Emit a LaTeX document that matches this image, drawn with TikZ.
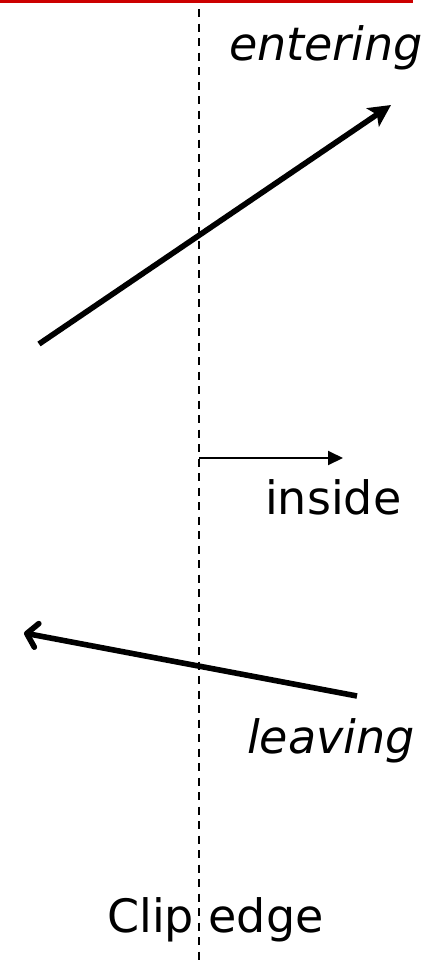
\documentclass[tikz,border=0pt]{standalone}
\usepackage{fontspec}
\setmainfont{DejaVu Sans}
\usetikzlibrary{arrows.meta}
\definecolor{edgered}{RGB}{204,0,0}
\tikzset{
  lbl/.style={anchor=base west, inner sep=0pt, font=\fontsize{46bp}{55bp}\selectfont},
  clipline/.style={line width=2.2bp, dash pattern=on 8bp off 6.5bp},
  bigarrow/.style={line width=5.6bp},
}
\begin{document}
\begin{tikzpicture}[x=1bp,y=-1bp]
\useasboundingbox (0,0) rectangle (445,960);
% red rule at the top
\coordinate (rl) at (0,1.5);
\coordinate (rr) at (413,1.5);
\draw[edgered, line width=3bp] (rl) -- (rr);
% clip edge
\coordinate (ct) at (199,9);
\coordinate (cb) at (199,962);
\draw[clipline] (ct) -- (cb);
% entering
\coordinate (e1) at (39,344);
\coordinate (e2) at (391,105);
\draw[bigarrow, -{Stealth[length=22bp,width=22bp,inset=5bp]}] (e1) -- (e2);
% inside normal
\coordinate (i1) at (199,458);
\coordinate (i2) at (343,458);
\draw[line width=2bp, -{Triangle[length=15bp,width=14bp]}] (i1) -- (i2);
% leaving
\coordinate (l1) at (357,696);
\coordinate (l2) at (24,633);
\draw[bigarrow, line cap=butt, -{Straight Barb[round,length=10bp,width=24bp]}] (l1) -- (l2);
% labels
\node[lbl, font=\fontsize{46bp}{55bp}\selectfont\itshape] (tent) at (229,60) {entering};
\node[lbl] (tins) at (265,514) {inside};
\node[lbl, font=\fontsize{46bp}{55bp}\selectfont\itshape] (tlea) at (247,753) {leaving};
\node[lbl] (tclip) at (107,932) {Clip edge};
\end{tikzpicture}
\end{document}
